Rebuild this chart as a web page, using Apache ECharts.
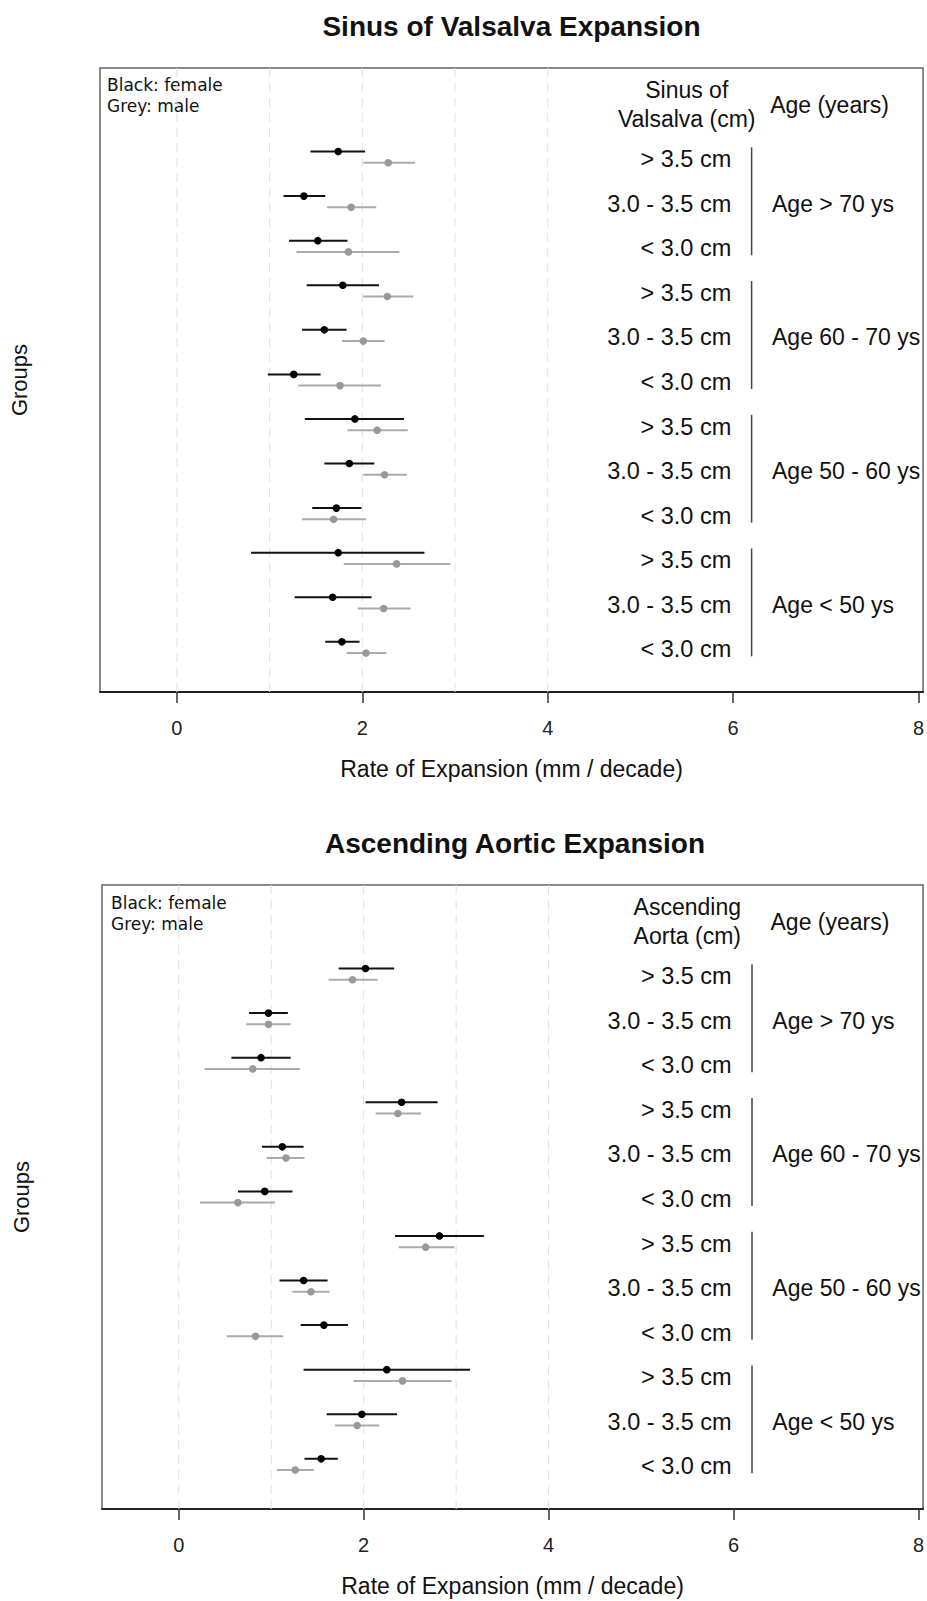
<!DOCTYPE html>
<html><head><meta charset="utf-8">
<script src="https://cdn.jsdelivr.net/npm/echarts@6/dist/echarts.min.js"></script>
<style>html,body{margin:0;padding:0;background:#fff}#c{width:927px;height:1601px}</style>
</head><body><div id="c"></div>
<script>
// ---------- data ----------
const panelTitles = ['Sinus of Valsalva Expansion', 'Ascending Aortic Expansion'];
const sizeHeaders = ['Sinus of\nValsalva (cm)', 'Ascending\nAorta (cm)'];
const ageHeader = 'Age (years)';
const sizeLabels = ['> 3.5 cm', '3.0 - 3.5 cm', '< 3.0 cm'];
const ageGroups = ['Age > 70 ys', 'Age 60 - 70 ys', 'Age 50 - 60 ys', 'Age < 50 ys'];
const xTicks = [0, 2, 4, 6, 8];
const gridValues = [0, 1, 2, 3, 4];
const legendText = 'Black: female\nGrey: male';
const xTitle = 'Rate of Expansion (mm / decade)';
const yTitle = 'Groups';

// rows listed top to bottom (age group x sinus size)
// Sinus of Valsalva
const svFemaleEst = [1.74, 1.37, 1.52, 1.79, 1.59, 1.26, 1.92, 1.86, 1.72, 1.74, 1.68, 1.78];
const svFemaleLo  = [1.44, 1.15, 1.21, 1.40, 1.35, 0.98, 1.38, 1.59, 1.46, 0.80, 1.27, 1.60];
const svFemaleHi  = [2.03, 1.60, 1.84, 2.18, 1.83, 1.55, 2.45, 2.13, 1.99, 2.67, 2.10, 1.97];
const svMaleEst   = [2.28, 1.88, 1.85, 2.27, 2.01, 1.76, 2.16, 2.24, 1.69, 2.37, 2.23, 2.04];
const svMaleLo    = [2.01, 1.62, 1.29, 2.01, 1.78, 1.31, 1.84, 2.01, 1.35, 1.80, 1.95, 1.83];
const svMaleHi    = [2.57, 2.15, 2.40, 2.55, 2.24, 2.20, 2.49, 2.48, 2.04, 2.95, 2.52, 2.26];
// Ascending Aorta
const aaFemaleEst = [2.02, 0.97, 0.89, 2.41, 1.12, 0.93, 2.82, 1.35, 1.57, 2.25, 1.98, 1.54];
const aaFemaleLo  = [1.73, 0.76, 0.57, 2.02, 0.90, 0.64, 2.34, 1.09, 1.32, 1.35, 1.60, 1.36];
const aaFemaleHi  = [2.33, 1.18, 1.21, 2.80, 1.35, 1.23, 3.30, 1.61, 1.83, 3.15, 2.36, 1.72];
const aaMaleEst   = [1.88, 0.97, 0.80, 2.37, 1.16, 0.64, 2.67, 1.43, 0.83, 2.42, 1.93, 1.26];
const aaMaleLo    = [1.62, 0.73, 0.28, 2.13, 0.95, 0.23, 2.38, 1.23, 0.52, 1.89, 1.69, 1.06];
const aaMaleHi    = [2.15, 1.21, 1.31, 2.62, 1.36, 1.04, 2.98, 1.63, 1.13, 2.95, 2.17, 1.46];

// ---------- helpers ----------
const FONT = '"Liberation Sans", Arial, Helvetica, sans-serif';
const nRows = 12;
const rowY = i => nRows - i;

function errSeries(g, est, lo, hi, off, lineColor, dotColor) {
  const data = est.map((v, i) => [v, lo[i], hi[i], rowY(i) + off]);
  return {
    type: 'custom', xAxisIndex: g, yAxisIndex: g, silent: true, z: 5,
    data, encode: { x: [0, 1, 2], y: 3 },
    renderItem: (params, api) => {
      const y = api.value(3);
      const p = api.coord([api.value(0), y]);
      const a = api.coord([api.value(1), y]);
      const b = api.coord([api.value(2), y]);
      return { type: 'group', children: [
        { type: 'line', shape: { x1: a[0], y1: a[1], x2: b[0], y2: b[1] }, style: { stroke: lineColor, lineWidth: 2 } },
        { type: 'circle', shape: { cx: p[0], cy: p[1], r: 3.8 }, style: { fill: dotColor } }
      ]};
    }
  };
}

function gridLineSeries(g) {
  return {
    type: 'custom', xAxisIndex: g, yAxisIndex: g, silent: true, z: 1,
    data: gridValues.map(v => [v]),
    renderItem: (params, api) => {
      const a = api.coord([api.value(0), 0]);
      const b = api.coord([api.value(0), 14]);
      return { type: 'line', shape: { x1: a[0], y1: a[1], x2: b[0], y2: b[1] },
        style: { stroke: '#e0e0e0', lineWidth: 1, lineDash: [9, 6] } };
    }
  };
}

function textSeries(g) {
  const items = [];
  // size labels per row
  for (let i = 0; i < nRows; i++) items.push({ x: 5.98, y: rowY(i), t: sizeLabels[i % 3], align: 'right', dy: 2, fs: 23.5 });
  // age group labels
  ageGroups.forEach((a, k) => items.push({ x: 6.42, y: nRows - 3 * k - 1, t: a, align: 'left', dy: 2, fs: 23 }));
  // headers
  items.push({ x: 5.5, y: 13.22, t: sizeHeaders[g], align: 'center', dy: 2, lh: 29, fs: 23 });
  items.push({ x: 6.4, y: 13.22, t: ageHeader, align: 'left', dy: 2, fs: 23 });
  return {
    type: 'custom', xAxisIndex: g, yAxisIndex: g, silent: true, z: 6,
    data: items.map(d => [d.x, d.y]),
    renderItem: (params, api) => {
      const d = items[params.dataIndex];
      const p = api.coord([api.value(0), api.value(1)]);
      return { type: 'text', x: p[0], y: p[1] + d.dy,
        style: { text: d.t, align: d.align, verticalAlign: 'middle', textAlign: d.align, textVerticalAlign: 'middle',
          font: d.fs + 'px ' + FONT, fill: '#111', lineHeight: d.lh || 27 } };
    }
  };
}

function bracketSeries(g) {
  return {
    type: 'custom', xAxisIndex: g, yAxisIndex: g, silent: true, z: 6,
    data: ageGroups.map((a, k) => [6.2, nRows - 3 * k - 1]),
    renderItem: (params, api) => {
      const a = api.coord([api.value(0), api.value(1) + 1.22]);
      const b = api.coord([api.value(0), api.value(1) - 1.2]);
      return { type: 'line', shape: { x1: a[0], y1: a[1], x2: b[0], y2: b[1] },
        style: { stroke: '#444', lineWidth: 1.5 } };
    }
  };
}

function xAxisCfg(g) {
  return {
    gridIndex: g, type: 'value', min: -0.83, max: 8.05,
    axisLine: { show: true, onZero: false, lineStyle: { color: '#222', width: 2 } },
    axisTick: { show: true, customValues: xTicks, length: 11, lineStyle: { color: '#333', width: 1.5 } },
    axisLabel: { show: true, customValues: xTicks, margin: 26, fontSize: 20, color: '#222', fontFamily: FONT },
    splitLine: { show: false },
    name: xTitle, nameLocation: 'middle', nameGap: 65,
    nameTextStyle: { fontSize: 23, color: '#111', fontFamily: FONT }
  };
}
function yAxisCfg(g) {
  return {
    gridIndex: g, type: 'value', min: 0, max: 14,
    axisLine: { show: false }, axisTick: { show: false }, axisLabel: { show: false }, splitLine: { show: false },
    name: yTitle, nameLocation: 'middle', nameGap: 70, nameRotate: 90,
    nameTextStyle: { fontSize: 22, color: '#111', fontFamily: FONT }
  };
}

const chart = echarts.init(document.getElementById('c'), null, { renderer: 'svg' });
chart.setOption({
  animation: false,
  backgroundColor: '#fff',
  grid: [
    { left: 99, top: 68, width: 825, height: 624, show: true, borderColor: '#666', borderWidth: 1.5, backgroundColor: 'transparent' },
    { left: 102, top: 885, width: 826, height: 624, show: true, borderColor: '#666', borderWidth: 1.5, backgroundColor: 'transparent' }
  ],
  xAxis: [xAxisCfg(0), xAxisCfg(1)],
  yAxis: [yAxisCfg(0), yAxisCfg(1)],
  graphic: [
    { type: 'text', x: 511.5, y: 26, style: { text: panelTitles[0], align: 'center', verticalAlign: 'middle', textAlign: 'center', textVerticalAlign: 'middle', font: 'bold 28px ' + FONT, fill: '#111' } },
    { type: 'text', x: 515, y: 843, style: { text: panelTitles[1], align: 'center', verticalAlign: 'middle', textAlign: 'center', textVerticalAlign: 'middle', font: 'bold 28px ' + FONT, fill: '#111' } },
    { type: 'text', x: 107, y: 74, style: { text: legendText, font: '17px "DejaVu Sans", sans-serif', lineHeight: 21, fill: '#111', verticalAlign: 'top', textVerticalAlign: 'top' } },
    { type: 'text', x: 111, y: 892, style: { text: legendText, font: '17px "DejaVu Sans", sans-serif', lineHeight: 21, fill: '#111', verticalAlign: 'top', textVerticalAlign: 'top' } }
  ],
  series: [
    gridLineSeries(0), gridLineSeries(1),
    errSeries(0, svFemaleEst, svFemaleLo, svFemaleHi, 0.126, '#111', '#000'),
    errSeries(0, svMaleEst, svMaleLo, svMaleHi, -0.126, '#aaa', '#999'),
    errSeries(1, aaFemaleEst, aaFemaleLo, aaFemaleHi, 0.126, '#111', '#000'),
    errSeries(1, aaMaleEst, aaMaleLo, aaMaleHi, -0.126, '#aaa', '#999'),
    textSeries(0), textSeries(1),
    bracketSeries(0), bracketSeries(1)
  ]
});
</script></body></html>
